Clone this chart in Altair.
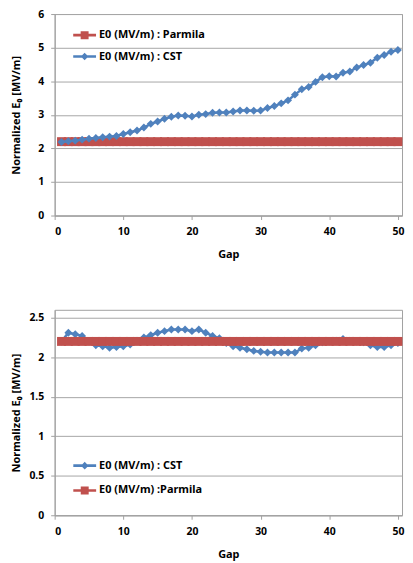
import altair as alt
import pandas as pd

gap = list(range(1, 51))

top_series = ["E0 (MV/m) : Parmila", "E0 (MV/m) : CST"]
top_parmila = [2.2, 2.2, 2.2, 2.2, 2.2, 2.2, 2.2, 2.2, 2.2, 2.2,
               2.2, 2.2, 2.2, 2.2, 2.2, 2.2, 2.2, 2.2, 2.2, 2.2,
               2.2, 2.2, 2.2, 2.2, 2.2, 2.2, 2.2, 2.2, 2.2, 2.2,
               2.2, 2.2, 2.2, 2.2, 2.2, 2.2, 2.2, 2.2, 2.2, 2.2,
               2.2, 2.2, 2.2, 2.2, 2.2, 2.2, 2.2, 2.2, 2.2, 2.2]
top_cst = [2.19, 2.21, 2.23, 2.26, 2.29, 2.31, 2.33, 2.35, 2.37, 2.43,
           2.48, 2.53, 2.62, 2.73, 2.80, 2.88, 2.94, 2.98, 2.97, 2.95,
           3.00, 3.02, 3.06, 3.07, 3.07, 3.10, 3.13, 3.13, 3.12, 3.13,
           3.20, 3.26, 3.34, 3.43, 3.60, 3.76, 3.83, 3.98, 4.12, 4.15,
           4.14, 4.25, 4.29, 4.41, 4.48, 4.55, 4.70, 4.78, 4.88, 4.93]

bottom_series = ["E0 (MV/m) : CST", "E0 (MV/m) :Parmila"]
bottom_cst = [2.20, 2.31, 2.29, 2.27, 2.20, 2.15, 2.14, 2.12, 2.13, 2.14,
              2.16, 2.21, 2.25, 2.28, 2.31, 2.33, 2.35, 2.35, 2.35, 2.33,
              2.35, 2.31, 2.27, 2.24, 2.18, 2.14, 2.12, 2.10, 2.08, 2.07,
              2.06, 2.06, 2.06, 2.06, 2.06, 2.11, 2.12, 2.15, 2.19, 2.20,
              2.21, 2.23, 2.21, 2.20, 2.19, 2.15, 2.13, 2.13, 2.15, 2.18]
bottom_parmila = [2.2, 2.2, 2.2, 2.2, 2.2, 2.2, 2.2, 2.2, 2.2, 2.2,
                  2.2, 2.2, 2.2, 2.2, 2.2, 2.2, 2.2, 2.2, 2.2, 2.2,
                  2.2, 2.2, 2.2, 2.2, 2.2, 2.2, 2.2, 2.2, 2.2, 2.2,
                  2.2, 2.2, 2.2, 2.2, 2.2, 2.2, 2.2, 2.2, 2.2, 2.2,
                  2.2, 2.2, 2.2, 2.2, 2.2, 2.2, 2.2, 2.2, 2.2, 2.2]

x_ticks = [0, 10, 20, 30, 40, 50]
top_y_ticks = [0, 1, 2, 3, 4, 5, 6]
bottom_y_ticks = [0, 0.5, 1, 1.5, 2, 2.5]

BLUE = "#4F81BD"
RED = "#C0504D"
FONT = "Noto Sans"
Y_TITLE = "Normalized E\u2080 [MV/m]"

# legend glyphs: a line segment with the series marker in the middle
CST_PATH = "M-1.21,-0.14H1.21V0.14H-1.21Z M-0.4,0L0,-0.4L0.4,0L0,0.4Z"
PAR_PATH = "M-1.21,-0.14H1.21V0.14H-1.21Z M-0.42,-0.42H0.42V0.42H-0.42Z"


def make_df(series_names, first, second):
    return pd.DataFrame({
        "Gap": gap + gap,
        "E": first + second,
        "series": [series_names[0]] * len(first) + [series_names[1]] * len(second),
    })


def panel(df, order, y_dom, y_ticks, height, lx, ly, row_pad, title_pad):
    colors = [BLUE if "CST" in s else RED for s in order]
    paths = [CST_PATH if "CST" in s else PAR_PATH for s in order]
    legend = alt.Legend(
        title=None, orient="none", legendX=lx, legendY=ly, padding=0,
        symbolSize=361, labelOffset=5, rowPadding=row_pad,
        symbolStrokeWidth=0, symbolOpacity=1,
        labelFont=FONT, labelFontSize=11, labelFontWeight="bold",
        labelColor="#000000", labelLimit=0,
    )
    color = alt.Color("series:N", scale=alt.Scale(domain=order, range=colors), legend=legend)
    shape = alt.Shape("series:N", scale=alt.Scale(domain=order, range=paths), legend=legend)
    x = alt.X("Gap:Q", scale=alt.Scale(domain=[0, 50.6], nice=False, zero=False),
              axis=alt.Axis(values=x_ticks, title="Gap", grid=False, titlePadding=12))
    y = alt.Y("E:Q", scale=alt.Scale(domain=y_dom, nice=False, zero=False),
              axis=alt.Axis(values=y_ticks, title=Y_TITLE, grid=True, format="~g",
                            titlePadding=title_pad))
    layers = []
    for name in order:
        base = alt.Chart(df).transform_filter(alt.datum.series == name)
        cst = "CST" in name
        layers.append(base.mark_line(strokeWidth=2.5).encode(x=x, y=y, color=color))
        layers.append(base.mark_point(shape="diamond" if cst else "square", filled=True,
                                      size=64 if cst else 81, opacity=1, strokeWidth=0)
                      .encode(x=x, y=y, color=color))
    # legend-only layer (draws nothing): gives the legend its line+marker glyphs
    layers.append(
        alt.Chart(df).transform_filter("false")
        .mark_point(filled=True, size=361, opacity=1, strokeWidth=0)
        .encode(x=x, y=y, color=color, shape=shape)
    )
    return alt.layer(*layers).properties(width=350, height=height)


top_df = make_df(top_series, top_parmila, top_cst)
bottom_df = make_df(bottom_series, bottom_cst, bottom_parmila)

top = panel(top_df, top_series, [0, 6], top_y_ticks, 203, 20.7, 11.8, 6.5, 16)
bottom = panel(bottom_df, bottom_series, [0, 2.6], bottom_y_ticks, 207, 20.8, 147.5, 10, 7.5)

chart = (
    alt.vconcat(top, bottom, spacing=49)
    .resolve_scale(color="independent", shape="independent")
    .resolve_legend(color="independent", shape="independent")
    .configure(padding={"left": 2, "top": -2, "right": 0, "bottom": 0})
    .configure_view(stroke="#a0a0a0")
    .configure_axis(
        domainColor="#a0a0a0", tickColor="#a0a0a0", gridColor="#a6a6a6",
        tickSize=4, labelPadding=7,
        labelFont=FONT, labelFontSize=10.5, labelFontWeight="bold", labelColor="#000000",
        titleFont=FONT, titleFontSize=11, titleFontWeight="bold", titleColor="#000000",
    )
)

chart.save("out.html", embed_options={"renderer": "svg", "actions": False})
